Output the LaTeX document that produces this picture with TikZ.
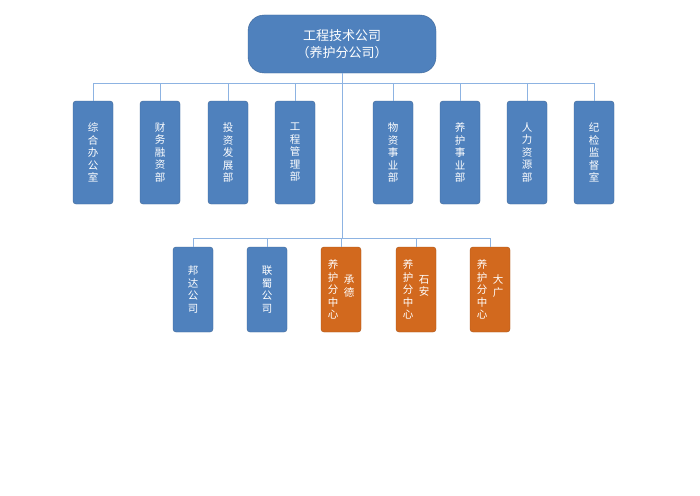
\documentclass[tikz,border=0pt]{standalone}
\usepackage{fontspec}
\setmainfont{Noto Sans CJK SC}
\definecolor{boxblue}{HTML}{4F81BD}
\definecolor{boxorange}{HTML}{D2691E}
\definecolor{linkblue}{HTML}{8DB3E2}
\begin{document}
\begin{tikzpicture}[x=1pt,y=-1pt]
            \tikzstyle{dept}=[rectangle,rounded corners=3pt,fill=boxblue,draw=boxblue!80!black,line width=.4pt,text=white,minimum width=40pt,align=center,font=\fontsize{10.5}{12.5}\selectfont,inner sep=0pt]
            \tikzstyle{link}=[linkblue,line width=.8pt]

            \useasboundingbox[fill=white] (0,0) rectangle (700,495);

            %head
            \node[dept,rounded corners=16pt,minimum width=188pt,minimum height=58pt,font=\fontsize{13}{17}\selectfont] (head) at (342,44) {工程技术公司\\（养护分公司）};

            %departments
            \foreach \x/\t [count=\i] in {93/综\\合\\办\\公\\室,160/财\\务\\融\\资\\部,228/投\\资\\发\\展\\部,295/工\\程\\管\\理\\部,393/物\\资\\事\\业\\部,460/养\\护\\事\\业\\部,527/人\\力\\资\\源\\部,594/纪\\检\\监\\督\\室}
            {
                \node[dept,minimum height=103pt] (d\i) at (\x,152.5) {\t};
                \draw[link] (d\i.north) -- (\x,83);
            }
            \draw[link] (d1.north |- 0,83) -- (d8.north |- 0,83);

            %branches
            \foreach \x/\t [count=\i] in {193/邦\\达\\公\\司,267/联\\蜀\\公\\司}
            {
                \node[dept,minimum height=85pt] (b\i) at (\x,289.5) {\t};
                \draw[link] (b\i.north) -- (\x,238);
            }
            \foreach \x/\t [count=\i from 3] in {341/承\\德,416/石\\安,490/大\\广}
            {
                \node[dept,fill=boxorange,draw=boxorange!80!black,minimum height=85pt] (b\i) at (\x,289.5) {};
                \node[text=white,align=center,font=\fontsize{10.5}{12.5}\selectfont,inner sep=0pt] (l\i) at (\x-8,289.5) {养\\护\\分\\中\\心};
                \node[text=white,align=center,font=\fontsize{10.5}{12.5}\selectfont,inner sep=0pt] (r\i) at (\x+8,286) {\t};
                \draw[link] (b\i.north) -- (\x,238);
            }
            \draw[link] (b1.north |- 0,238) -- (b5.north |- 0,238);

            \draw[link] (head.south) -- (342,238);
\end{tikzpicture}
\end{document}
